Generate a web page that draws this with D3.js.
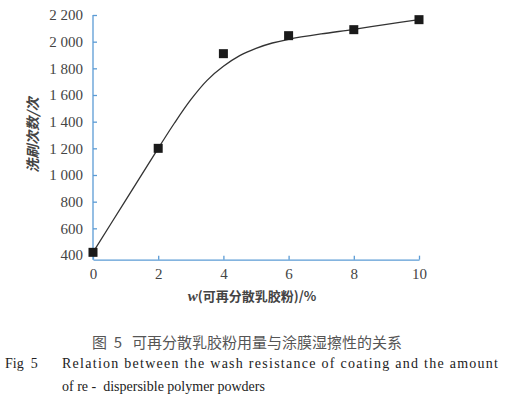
<!DOCTYPE html>
<html><head><meta charset="utf-8">
<script src="https://cdn.jsdelivr.net/npm/d3@7"></script>
<style>body{margin:0;background:#fff}svg{display:block}text{white-space:pre}</style>
</head><body>
<svg id="c" width="505" height="397"></svg>
<script>
const xValues = [0, 2, 4, 6, 8, 10];
const yValues = [420, 1200, 1910, 2045, 2090, 2165];
const curveX = [0, 1, 2, 2.5, 3, 3.5, 4, 4.5, 5, 5.5, 6, 7, 8, 9, 10];
const curveY = [420, 810, 1200, 1390, 1565, 1710, 1815, 1895, 1950, 1990, 2018, 2058, 2092, 2130, 2165];
const xTicks = [0, 2, 4, 6, 8, 10];
const yTicks = [400, 600, 800, 1000, 1200, 1400, 1600, 1800, 2000, 2200];
const yTickLabels = ["400", "600", "800", "1 000", "1 200", "1 400", "1 600", "1 800", "2 000", "2 200"];

const svg = d3.select("#c");
const x = d3.scaleLinear().domain([0, 10]).range([93, 419]);
const y = d3.scaleLinear().domain([400, 2200]).range([255, 15]);
const axisColor = "#5b9bd5";
const serif = "'Liberation Serif', 'DejaVu Serif', serif";

// x axis
const gx = svg.append("g").attr("transform", `translate(0,${y(365)})`)
  .call(d3.axisBottom(x).tickValues(xTicks).tickSizeInner(-4).tickSizeOuter(0).tickPadding(9));
gx.attr("font-family", null);
gx.select(".domain").attr("stroke", axisColor).attr("stroke-width", 1.3);
gx.selectAll(".tick line").attr("stroke", axisColor).attr("stroke-width", 1.3);
gx.selectAll("text").style("font-family", serif).style("font-size", "15px").attr("fill", "#444");

// y axis
const gy = svg.append("g").attr("transform", `translate(${x(0)},0)`)
  .call(d3.axisLeft(y).tickValues(yTicks).tickFormat((d, i) => yTickLabels[i]).tickSizeInner(-4).tickSizeOuter(0).tickPadding(10));
gy.attr("font-family", null);
gy.select(".domain").attr("stroke", axisColor).attr("stroke-width", 1.3)
  .attr("d", `M0,${y(2200)}V${y(365)}`);
gy.selectAll(".tick line").attr("stroke", axisColor).attr("stroke-width", 1.3);
gy.selectAll("text").style("font-family", serif).style("font-size", "15px").attr("fill", "#444");

// curve
const line = d3.line().x(d => x(d[0])).y(d => y(d[1])).curve(d3.curveCatmullRom.alpha(0.5));
svg.append("path").datum(curveX.map((v, i) => [v, curveY[i]]))
  .attr("d", line).attr("fill", "none").attr("stroke", "#333").attr("stroke-width", 1.3);

// markers
svg.selectAll("rect.m").data(xValues.map((v, i) => [v, yValues[i]])).enter()
  .append("rect").attr("class", "m")
  .attr("x", d => x(d[0]) - 4.5).attr("y", d => y(d[1]) - 4.5)
  .attr("width", 9).attr("height", 9).attr("fill", "#1a1a1a");

// axis titles
svg.append("text").attr("transform", "translate(38,135) rotate(-90)")
  .attr("text-anchor", "middle").style("font-family", "'Noto Sans CJK SC'")
  .style("font-size", "14px").attr("font-weight", "bold").attr("fill", "#444").attr("font-style", "italic")
  .text("洗刷次数/次");
const xt = svg.append("text").attr("x", 252).attr("y", 301).attr("text-anchor", "middle")
  .style("font-family", "'Noto Sans CJK SC'").style("font-size", "13px").attr("font-weight", "bold").attr("fill", "#444");
xt.append("tspan").style("font-family", serif).attr("font-style", "italic").style("font-size", "15px").text("w");
xt.append("tspan").text("(可再分散乳胶粉)/%");

// captions
svg.append("text").attr("x", 247).attr("y", 348).attr("text-anchor", "middle")
  .style("font-family", "'Noto Sans CJK SC'").style("font-size", "15px").attr("fill", "#555")
  .text("图  5   可再分散乳胶粉用量与涂膜湿擦性的关系");
svg.append("text").attr("x", 5).attr("y", 368).style("font-family", serif).style("font-size", "14px").attr("fill", "#222")
  .text("Fig  5");
svg.append("text").attr("x", 62).attr("y", 368).style("font-family", serif).style("font-size", "14px").attr("fill", "#222")
  .attr("textLength", 436).text("Relation between the wash resistance of coating and the amount");
svg.append("text").attr("x", 62).attr("y", 391).style("font-family", serif).style("font-size", "14px").attr("fill", "#222")
  .text("of re -  dispersible polymer powders");
</script>
</body></html>
